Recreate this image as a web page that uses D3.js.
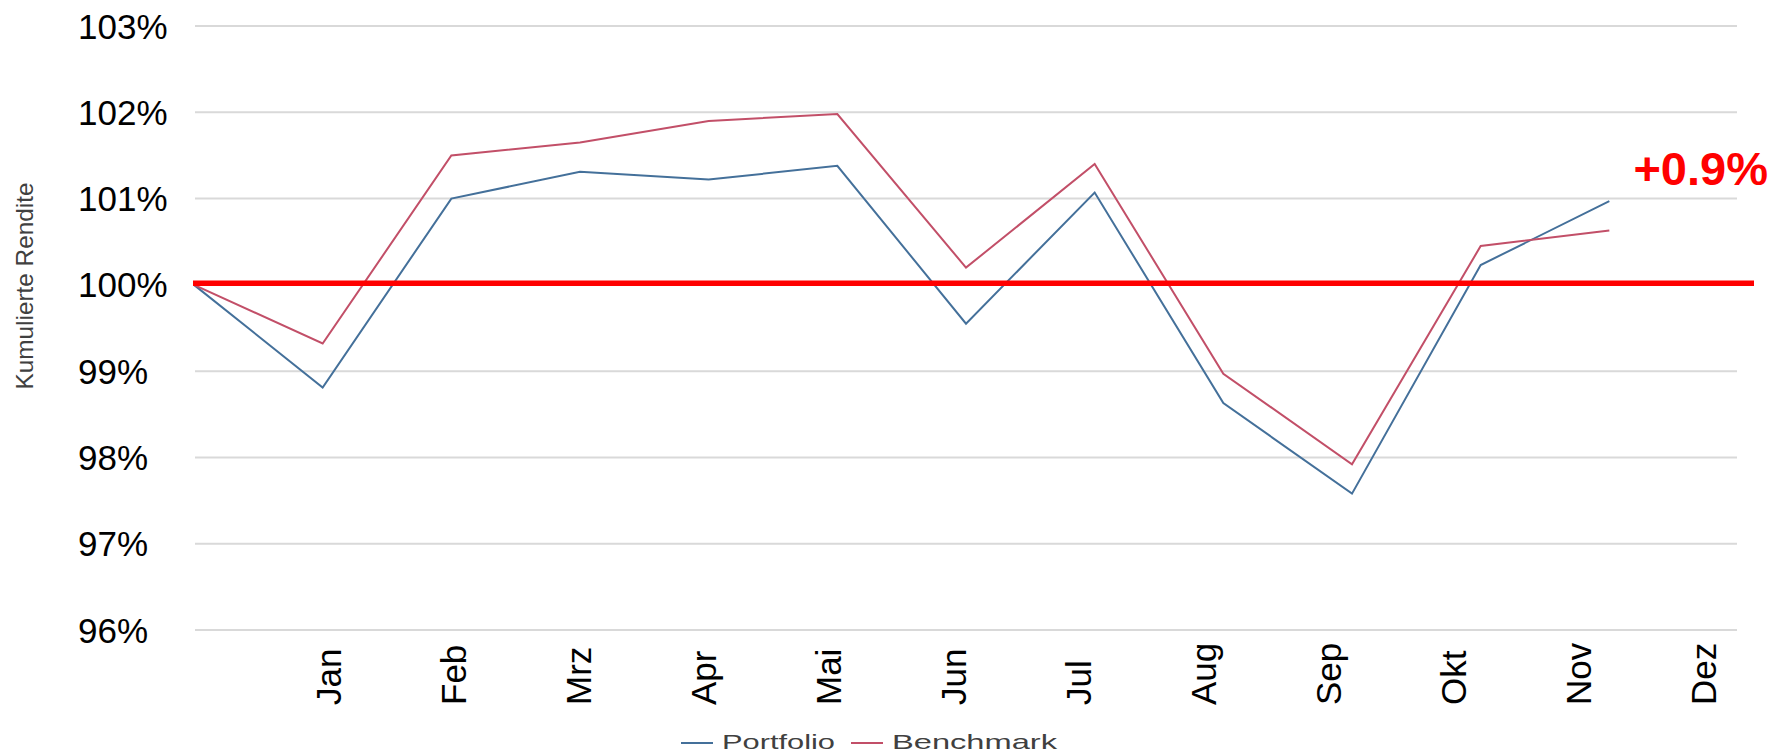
<!DOCTYPE html>
<html>
<head>
<meta charset="utf-8">
<script src="https://cdn.jsdelivr.net/npm/d3@7"></script>
<style>
  body { margin: 0; background: #fff; }
  text { font-family: "Liberation Sans", Arial, sans-serif; }
</style>
</head>
<body>
<div class="chart"></div>
<script>
// cumulative return, portfolio vs benchmark, start point + monthly values
const months = ["Jan", "Feb", "Mrz", "Apr", "Mai", "Jun", "Jul", "Aug", "Sep", "Okt", "Nov", "Dez"];
const periods = ["Start", ...months];
const portfolio = [100, 98.81, 101.0, 101.31, 101.22, 101.38, 99.55, 101.07, 98.63, 97.58, 100.23, 100.97];
const benchmark = [100, 99.32, 101.5, 101.65, 101.9, 101.98, 100.2, 101.4, 98.97, 97.92, 100.45, 100.63];
const yTicks = [96, 97, 98, 99, 100, 101, 102, 103];
const seriesNames = ["Portfolio", "Benchmark"];
const seriesColors = ["#44709a", "#c24f68"];
const outperformance = "+0.9%";

const width = 1774, height = 755;

const svg = d3
  .select(".chart")
  .append("svg")
  .attr("width", width)
  .attr("height", height);

// scales
const xScale = d3.scalePoint().domain(periods).range([194, 1738]);
// the month labels sit on their own, slightly narrower spacing
const labelScale = d3.scalePoint().domain(months).range([328, 1703]);
const yScale = d3.scaleLinear().domain([96, 103]).range([630, 26]);

// gridlines
svg
  .append("g")
  .selectAll("line")
  .data(yTicks)
  .enter()
  .append("line")
  .attr("x1", xScale("Start") + 1)
  .attr("x2", xScale("Dez") - 1)
  .attr("y1", (d) => yScale(d))
  .attr("y2", (d) => yScale(d))
  .attr("stroke", "#d9d9d9")
  .attr("stroke-width", 2);

// y tick labels (left aligned)
svg
  .append("g")
  .selectAll("text")
  .data(yTicks)
  .enter()
  .append("text")
  .attr("x", 78)
  .attr("y", (d) => yScale(d))
  .attr("dy", "0.36em")
  .style("font-size", "35px")
  .style("fill", "#000")
  .text((d) => d + "%");

// y axis title
svg
  .append("text")
  .attr("transform", "translate(33, 286) rotate(-90)")
  .style("text-anchor", "middle")
  .style("font-size", "24px")
  .style("fill", "#404040")
  .attr("textLength", 207)
  .attr("lengthAdjust", "spacingAndGlyphs")
  .text("Kumulierte Rendite");

// month labels, rotated
svg
  .append("g")
  .selectAll("text")
  .data(months)
  .enter()
  .append("text")
  .attr("transform", (d) => `translate(${labelScale(d)}, 705) rotate(-90)`)
  .attr("dy", "0.36em")
  .style("text-anchor", "start")
  .style("font-size", "35px")
  .style("fill", "#000")
  .text((d) => d);

// series lines
const line = d3
  .line()
  .x((d, i) => xScale(periods[i]))
  .y((d) => yScale(d));

[portfolio, benchmark].forEach((values, k) => {
  svg
    .append("path")
    .datum(values)
    .attr("d", line)
    .attr("fill", "none")
    .attr("stroke", seriesColors[k])
    .attr("stroke-width", 2)
    .attr("stroke-linejoin", "miter");
});

// 100% reference line
svg
  .append("line")
  .attr("x1", xScale("Start") - 1)
  .attr("x2", 1754)
  .attr("y1", yScale(100) - 1.5)
  .attr("y2", yScale(100) - 1.5)
  .attr("stroke", "#ff0000")
  .attr("stroke-width", 5.5);

// outperformance annotation
svg
  .append("text")
  .attr("x", 1768)
  .attr("y", 185)
  .style("text-anchor", "end")
  .style("font-size", "47px")
  .style("font-weight", "bold")
  .style("fill", "#ff0000")
  .text(outperformance);

// legend
const legendX = [681, 851];
const legendTextLen = [113, 165];
const legend = svg
  .append("g")
  .selectAll("g")
  .data(seriesNames)
  .enter()
  .append("g")
  .attr("transform", (d, i) => `translate(${legendX[i]}, 743)`);

legend
  .append("line")
  .attr("x1", 0)
  .attr("x2", 32)
  .attr("stroke", (d, i) => seriesColors[i])
  .attr("stroke-width", 2);

legend
  .append("text")
  .attr("x", 41)
  .attr("y", 6)
  .style("font-size", "21px")
  .style("fill", "#404040")
  .attr("textLength", (d, i) => legendTextLen[i])
  .attr("lengthAdjust", "spacingAndGlyphs")
  .text((d) => d);
</script>
</body>
</html>
